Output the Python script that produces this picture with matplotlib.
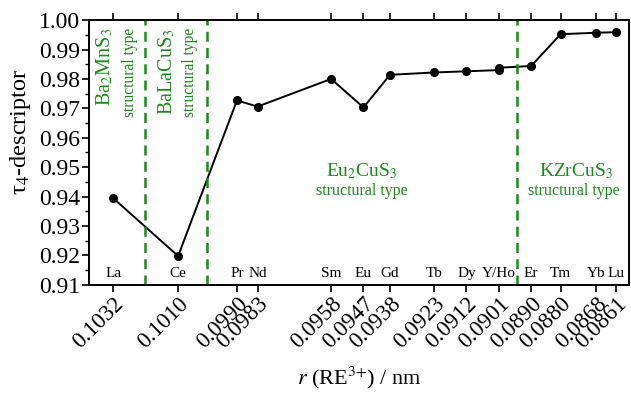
import matplotlib
matplotlib.use('Agg')
import matplotlib.pyplot as plt
from matplotlib.ticker import MultipleLocator

plt.rcParams['font.family'] = ['Liberation Serif', 'DejaVu Serif']
plt.rcParams['mathtext.fontset'] = 'stix'

# ionic radius of RE3+ (nm) and tau4 descriptor
radii = [0.1032, 0.1010, 0.0990, 0.0983, 0.0958, 0.0947, 0.0938, 0.0923,
         0.0912, 0.0901, 0.0901, 0.0890, 0.0880, 0.0868, 0.0861]
tau4 = [0.9394, 0.9198, 0.9727, 0.9706, 0.9800, 0.9703, 0.9814, 0.9822,
        0.9826, 0.9830, 0.9838, 0.9844, 0.9952, 0.9957, 0.9959]

tick_radii = [0.1032, 0.1010, 0.0990, 0.0983, 0.0958, 0.0947, 0.0938, 0.0923,
              0.0912, 0.0901, 0.0890, 0.0880, 0.0868, 0.0861]
tick_labels = ['0.1032', '0.1010', '0.0990', '0.0983', '0.0958', '0.0947', '0.0938',
               '0.0923', '0.0912', '0.0901', '0.0890', '0.0880', '0.0868', '0.0861']
elements = ['La', 'Ce', 'Pr', 'Nd', 'Sm', 'Eu', 'Gd', 'Tb', 'Dy', 'Y/Ho',
            'Er', 'Tm', 'Yb', 'Lu']

# borders between structural types
borders = [0.10211, 0.10001, 0.08949]

green = '#1a8a1a'

fig = plt.figure(figsize=(6.31, 3.94), dpi=100)
ax = fig.add_axes([0.1415, 0.277, 0.856, 0.672])

ax.plot(radii, tau4, color='black', lw=1.4, marker='o', ms=5.5)

for b in borders:
    ax.axvline(b, color=green, lw=1.8, ls=(0, (4, 2.5)))

ax.set_xlim(0.10402, 0.08566)
ax.set_ylim(0.91, 1.00)
ax.yaxis.set_major_locator(MultipleLocator(0.01))
ax.yaxis.set_minor_locator(MultipleLocator(0.005))
ax.yaxis.set_major_formatter(matplotlib.ticker.FormatStrFormatter('%.2f'))

ax.set_xticks(tick_radii)
ax.set_xticklabels(tick_labels, rotation=45, ha='right', va='top',
                   rotation_mode='anchor')
ax.tick_params(axis='x', which='both', top=True, direction='out', length=5,
               width=1.2, labelsize=16.5, pad=1)
ax.tick_params(axis='y', which='major', direction='out', length=5, width=1.2,
               labelsize=17, pad=1.5)
ax.tick_params(axis='y', which='minor', direction='out', length=3, width=1.0)
for s in ax.spines.values():
    s.set_linewidth(1.4)

for r, el in zip(tick_radii, elements):
    ax.text(r, 0.9115, el, ha='center', va='bottom', fontsize=11)

# structural type labels
ax.text(0.10348, 0.9973, r'Ba$_2$MnS$_3$', color=green, rotation=90,
        ha='center', va='top', fontsize=14.5)
ax.text(0.10263, 0.9973, 'structural type', color=green, rotation=90,
        ha='center', va='top', fontsize=11.2)
ax.text(0.10137, 0.9973, r'BaLaCuS$_3$', color=green, rotation=90,
        ha='center', va='top', fontsize=14.5)
ax.text(0.10059, 0.9973, 'structural type', color=green, rotation=90,
        ha='center', va='top', fontsize=11.2)
ax.text(0.09477, 0.9487, r'Eu$_2$CuS$_3$', color=green, ha='center', va='center',
        fontsize=14)
ax.text(0.09477, 0.9419, 'structural type', color=green, ha='center', va='center',
        fontsize=11.5)
ax.text(0.08749, 0.9487, r'KZrCuS$_3$', color=green, ha='center', va='center',
        fontsize=14)
ax.text(0.08756, 0.9419, 'structural type', color=green, ha='center', va='center',
        fontsize=11.5)

ax.set_ylabel('τ$_4$-descriptor', fontsize=17.5)
ax.set_xlabel(r'$r$ (RE$^{3{+}}$) / nm', fontsize=16)
ax.yaxis.set_label_coords(-0.104, 0.579)
ax.xaxis.set_label_coords(0.5, -0.302)

fig.savefig('out.png', dpi=100)
